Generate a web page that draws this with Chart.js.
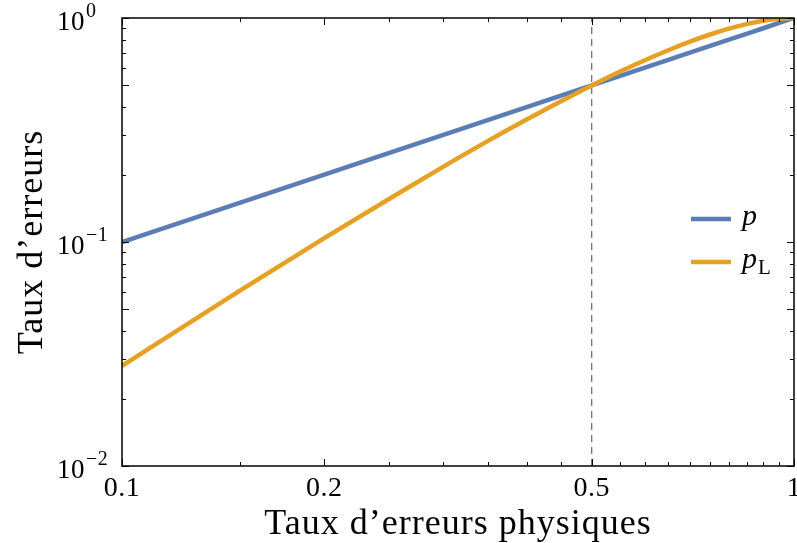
<!DOCTYPE html>
<html>
<head>
<meta charset="utf-8">
<script src="https://cdn.jsdelivr.net/npm/chart.js@4.4.1/dist/chart.umd.min.js"></script>
<style>
  html, body { margin: 0; padding: 0; background: #fff; }
  #wrap { width: 797px; height: 543px; }
</style>
</head>
<body>
<div id="wrap"><canvas id="errChart" width="797" height="543"></canvas></div>
<script>
// physical error rate (x) and read-off error rates
const physRates = [0.1, 0.15, 0.2, 0.25, 0.3, 0.35, 0.4, 0.45, 0.5, 0.55, 0.6, 0.65, 0.7, 0.75, 0.8, 0.85, 0.9, 0.95, 1.0];
const pValues   = [0.1, 0.15, 0.2, 0.25, 0.3, 0.35, 0.4, 0.45, 0.5, 0.55, 0.6, 0.65, 0.7, 0.75, 0.8, 0.85, 0.9, 0.95, 1.0];
const pLValues  = [0.028, 0.0608, 0.104, 0.156, 0.216, 0.282, 0.352, 0.425, 0.5, 0.575, 0.648, 0.718, 0.784, 0.844, 0.896, 0.939, 0.972, 0.993, 1.0];
const thresholdX = 0.5;

const xTickValues = [0.1, 0.2, 0.5, 1];
const xTickLabels = ['0.1', '0.2', '0.5', '1'];
const xMinorTicks = [0.15, 0.25, 0.3, 0.35, 0.4, 0.45, 0.55, 0.6, 0.65, 0.7, 0.75, 0.8, 0.85, 0.9, 0.95];
const yTickValues = [0.01, 0.1, 1];
const yTickExps = ['\u22122', '\u22121', '0'];
const yMinorTicks = [0.02, 0.03, 0.04, 0.05, 0.06, 0.07, 0.08, 0.09, 0.2, 0.3, 0.4, 0.5, 0.6, 0.7, 0.8, 0.9];

const BLUE = '#5a7db5';
const ORANGE = '#e6a125';
const SERIF = '"Liberation Serif", "DejaVu Serif", serif';

function pts(ys) {
    return physRates.map((x, i) => ({ x: x, y: ys[i] }));
}

// frame, inward ticks, labels, titles and legend
const decorPlugin = {
    id: 'decor',
    afterDraw(chart) {
        const c = chart.ctx;
        const xs = chart.scales.x, ys = chart.scales.y;
        const a = chart.chartArea;
        c.save();
        c.strokeStyle = '#000';
        c.lineWidth = 1.5;
        c.strokeRect(a.left, a.top, a.right - a.left, a.bottom - a.top);

        c.lineWidth = 1;
        function xTick(v, len) {
            const px = Math.round(xs.getPixelForValue(v)) + 0.5;
            c.beginPath();
            c.moveTo(px, a.bottom); c.lineTo(px, a.bottom - len);
            c.moveTo(px, a.top); c.lineTo(px, a.top + len);
            c.stroke();
        }
        function yTick(v, len) {
            const py = Math.round(ys.getPixelForValue(v)) + 0.5;
            c.beginPath();
            c.moveTo(a.left, py); c.lineTo(a.left + len, py);
            c.moveTo(a.right, py); c.lineTo(a.right - len, py);
            c.stroke();
        }
        xMinorTicks.forEach(v => xTick(v, 4));
        xTickValues.forEach(v => xTick(v, 7));
        yMinorTicks.forEach(v => yTick(v, v === 0.5 || v === 0.05 ? 7 : 4));
        yTickValues.forEach(v => yTick(v, 7));

        c.fillStyle = '#000';
        c.font = '28px ' + SERIF;
        c.letterSpacing = '0.5px';
        c.textAlign = 'center';
        c.textBaseline = 'alphabetic';
        xTickValues.forEach((v, i) => {
            c.fillText(xTickLabels[i], xs.getPixelForValue(v), a.bottom + 30);
        });

        c.textAlign = 'left';
        yTickValues.forEach((v, i) => {
            const py = ys.getPixelForValue(v);
            c.font = '27px ' + SERIF;
            c.fillText('10', 57, py + 12);
            const w = c.measureText('10').width;
            c.font = '20px ' + SERIF;
            c.fillText(yTickExps[i], 57 + w + 1, py - 1);
        });

        c.font = '36px ' + SERIF;
        c.letterSpacing = '1px';
        c.textAlign = 'center';
        c.fillText('Taux d\u2019erreurs physiques', (a.left + a.right) / 2, 534);
        c.save();
        c.translate(42, (a.top + a.bottom) / 2);
        c.rotate(-Math.PI / 2);
        c.fillText('Taux d\u2019erreurs', 0, 0);
        c.restore();
        c.letterSpacing = '0px';

        // legend
        const rows = [
            { color: BLUE, y: 219, sub: null },
            { color: ORANGE, y: 262, sub: 'L' }
        ];
        rows.forEach(r => {
            c.strokeStyle = r.color;
            c.lineWidth = 4.5;
            c.beginPath();
            c.moveTo(691, r.y); c.lineTo(731, r.y);
            c.stroke();
            c.textAlign = 'left';
            c.font = 'italic 30px ' + SERIF;
            c.fillText('p', 742, r.y + 6);
            if (r.sub) {
                const w = c.measureText('p').width;
                c.font = '21px ' + SERIF;
                c.fillText(r.sub, 742 + w + 1, r.y + 12);
            }
        });
        c.restore();
    }
};

const ctx = document.getElementById('errChart').getContext('2d');
const errChart = new Chart(ctx, {
    type: 'line',
    data: {
        datasets: [
            {
                label: 'pL',
                data: pts(pLValues),
                borderColor: ORANGE,
                borderWidth: 4.5,
                pointRadius: 0,
                cubicInterpolationMode: 'monotone',
                order: 0
            },
            {
                label: 'p',
                data: pts(pValues),
                borderColor: BLUE,
                borderWidth: 4.5,
                pointRadius: 0,
                order: 1
            },
            {
                label: 'seuil',
                data: [{ x: thresholdX, y: 0.01 }, { x: thresholdX, y: 1 }],
                borderColor: '#666',
                borderWidth: 1.2,
                borderDash: [7, 5],
                pointRadius: 0,
                order: 2
            }
        ]
    },
    options: {
        responsive: false,
        animation: false,
        layout: { padding: { top: 18, right: 3, left: 0, bottom: 0 } },
        plugins: { legend: { display: false }, tooltip: { enabled: false } },
        scales: {
            x: {
                type: 'logarithmic',
                min: 0.1, max: 1,
                ticks: { display: false },
                grid: { display: false },
                border: { display: false },
                afterFit: s => { s.height = 77; }
            },
            y: {
                type: 'logarithmic',
                min: 0.01, max: 1,
                ticks: { display: false },
                grid: { display: false },
                border: { display: false },
                afterFit: s => { s.width = 122; }
            }
        }
    },
    plugins: [decorPlugin]
});
</script>
</body>
</html>
